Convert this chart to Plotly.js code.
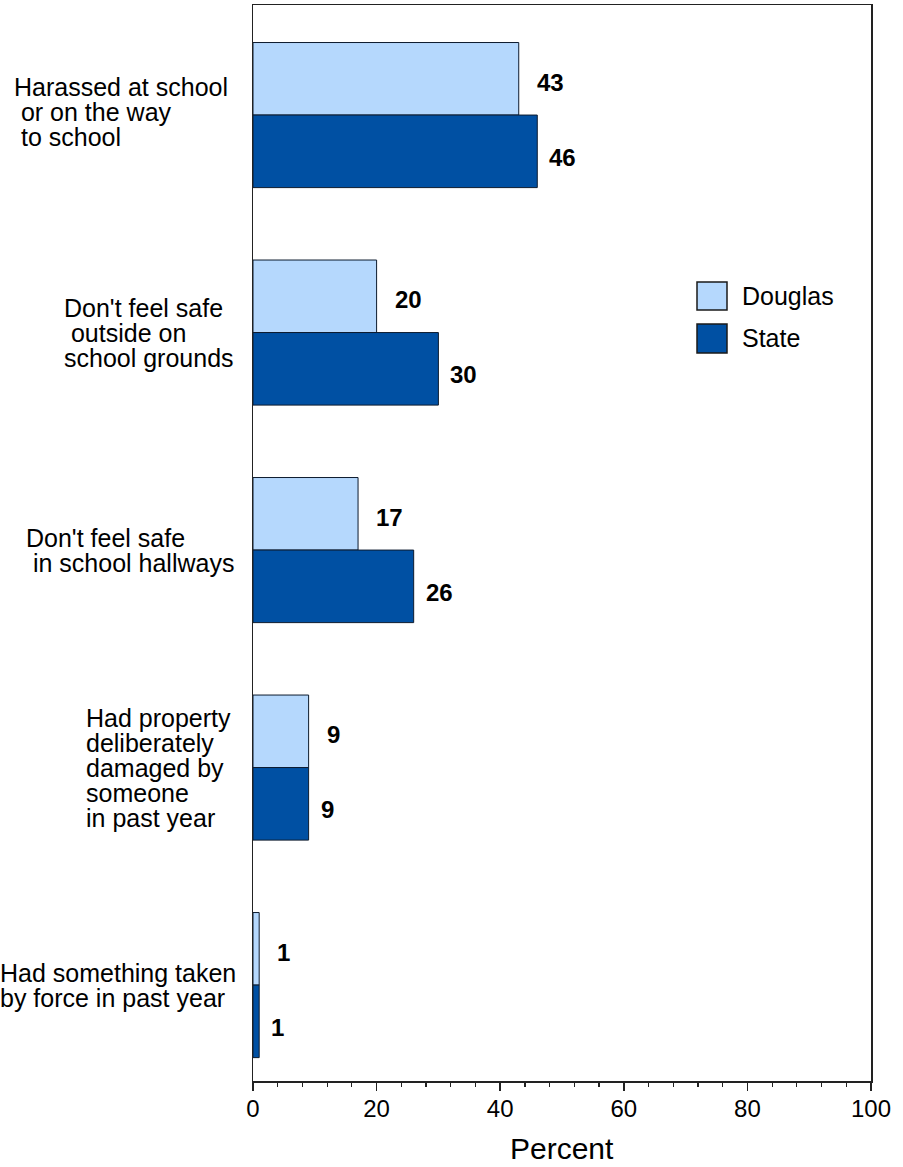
<!DOCTYPE html>
<html>
<head>
<meta charset="utf-8">
<script src="https://cdn.plot.ly/plotly-3.0.1.min.js"></script>
<style>html,body{margin:0;padding:0;background:#fff;}#chart{width:903px;height:1167px;}</style>
</head>
<body>
<div id="chart"></div>
<script>
// ---- data ----
const categories = [
  "Harassed at school or on the way to school",
  "Don't feel safe outside on school grounds",
  "Don't feel safe in school hallways",
  "Had property deliberately damaged by someone in past year",
  "Had something taken by force in past year"
];
const labelLines = [
  ["Harassed at school", "\u00a0or on the way", "\u00a0to school"],
  ["Don't feel safe", "\u00a0outside on", "school grounds"],
  ["Don't feel safe", "\u00a0in school hallways"],
  ["Had property", "deliberately", "damaged by", "someone", "in past year"],
  ["Had something taken", "by force in past year"]
];
const seriesNames = ["Douglas", "State"];
const douglas = [43, 20, 17, 9, 1];
const state = [46, 30, 26, 9, 1];
const xTickVals = [0, 20, 40, 60, 80, 100];
const xTitle = "Percent";

// ---- styles ----
const FONT = "Liberation Sans, Arial, sans-serif";
const colors = ["#b5d8fd", "#0050a3"];
const outline = "#0d1b2e";

const W = 903, H = 1167;
const M = {l: 253, r: 32, t: 5, b: 86};
const plotW = W - M.l - M.r, plotH = H - M.t - M.b;
const px2x = p => (p - M.l) / plotW;
const py2y = p => 1 - (p - M.t) / plotH;

const traces = [douglas, state].map((vals, k) => ({
  type: "bar",
  orientation: "h",
  name: seriesNames[k],
  x: vals,
  y: categories,
  marker: {color: colors[k], line: {color: outline, width: 1}},
  hoverinfo: "x+name",
  showlegend: false
}));

const annotations = [];
// category labels, one annotation per line
const blockLeft = [12, 62, 24, 84, -2];
const blockShift = [3, 0, 0, 0, 0];
const lineStep = 25;
labelLines.forEach((lines, i) => {
  const n = lines.length;
  lines.forEach((ln, j) => {
    annotations.push({
      xref: "paper", yref: "y",
      x: px2x(blockLeft[i]), y: categories[i],
      xanchor: "left", yanchor: "middle",
      yshift: -((j - (n - 1) / 2) * lineStep) + blockShift[i],
      text: ln, showarrow: false, align: "left",
      font: {family: FONT, size: 25, color: "#000"}
    });
  });
});
// value labels
[douglas, state].forEach((vals, k) => {
  vals.forEach((v, i) => {
    annotations.push({
      xref: "x", yref: "y",
      x: v, y: categories[i],
      xanchor: "left", yanchor: "middle",
      xshift: k === 0 ? 16 : 10,
      yshift: k === 0 ? 33 : -42,
      text: "<b>" + v + "</b>", showarrow: false,
      font: {family: FONT, size: 24, color: "#000"}
    });
  });
});
// x-axis title
annotations.push({
  xref: "paper", yref: "paper",
  x: 0.5, y: py2y(1148),
  xanchor: "center", yanchor: "middle",
  text: xTitle, showarrow: false,
  font: {family: FONT, size: 30, color: "#000"}
});
// legend (manual, large swatches)
const legendBoxes = [[282, 310], [324, 353]];
const shapes = [];
seriesNames.forEach((nm, k) => {
  const [t, b] = legendBoxes[k];
  shapes.push({
    type: "rect", xref: "paper", yref: "paper",
    x0: px2x(697), x1: px2x(727), y0: py2y(b), y1: py2y(t),
    fillcolor: colors[k], line: {color: "#1a1a1a", width: 1.5}
  });
  annotations.push({
    xref: "paper", yref: "paper",
    x: px2x(740), y: py2y((t + b) / 2),
    xanchor: "left", yanchor: "middle",
    text: nm, showarrow: false,
    font: {family: FONT, size: 25, color: "#000"}
  });
});

const layout = {
  width: W, height: H,
  margin: M,
  paper_bgcolor: "#fff", plot_bgcolor: "#fff",
  font: {family: FONT, color: "#000"},
  barmode: "group",
  bargap: 0.333,
  bargroupgap: 0,
  showlegend: false,
  xaxis: {
    range: [0, 100],
    tickvals: xTickVals,
    ticks: "outside", ticklen: 8, tickwidth: 1.5, tickcolor: "#222",
    ticklabelstandoff: -2,
    minor: {dtick: 4, tick0: 0, ticks: "outside", ticklen: 4, tickwidth: 1.2, tickcolor: "#222", showgrid: false},
    showgrid: false, zeroline: false,
    showline: true, mirror: true, linecolor: "#222", linewidth: 1.5,
    tickfont: {family: FONT, size: 24, color: "#000"}
  },
  yaxis: {
    type: "category",
    range: [4.441, -0.506],
    showticklabels: false, ticks: "",
    showgrid: false, zeroline: false,
    showline: true, mirror: true, linecolor: "#222", linewidth: 1.5
  },
  annotations: annotations,
  shapes: shapes
};

Plotly.newPlot("chart", traces, layout, {displayModeBar: false, staticPlot: true});
</script>
</body>
</html>
